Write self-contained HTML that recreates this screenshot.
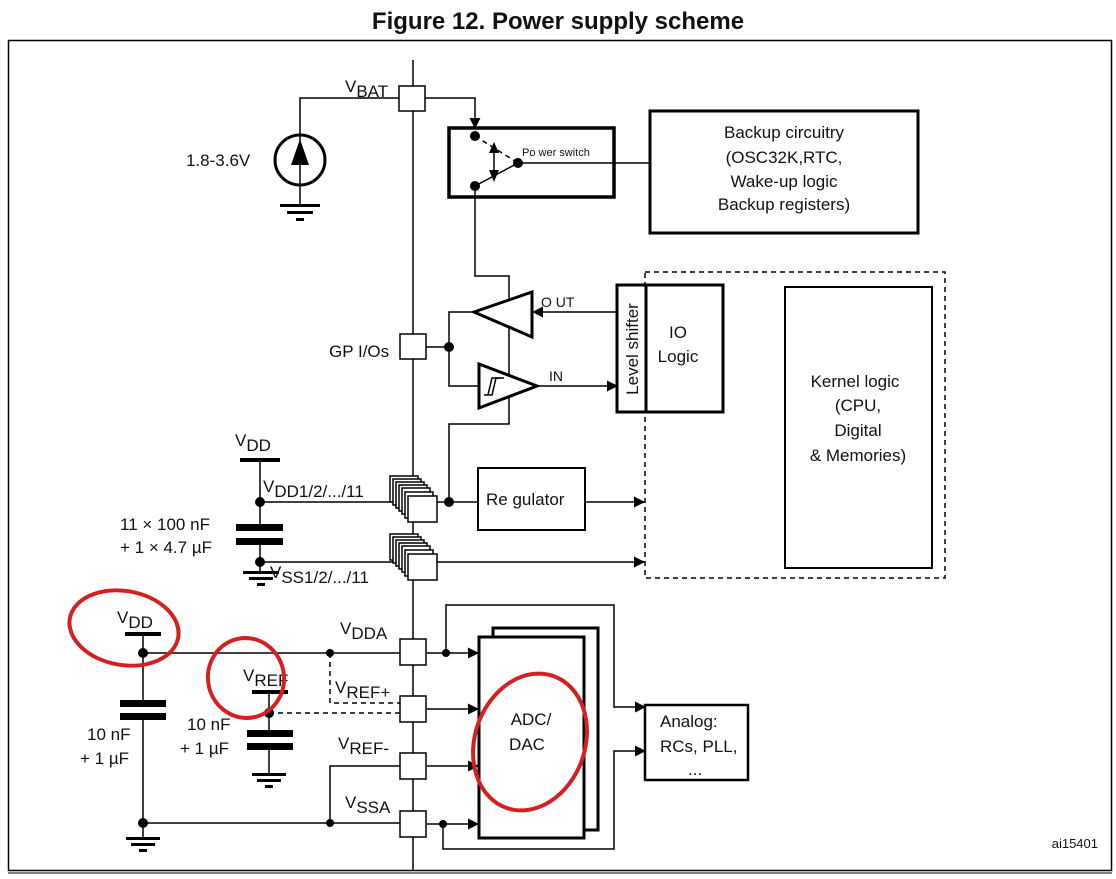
<!DOCTYPE html>
<html><head><meta charset="utf-8"><style>
html,body{margin:0;padding:0;background:#fff;}
svg{display:block;font-family:"Liberation Sans",sans-serif;}
text{fill:#111;}
</style></head><body>
<svg width="1116" height="879" viewBox="0 0 1116 879" xmlns="http://www.w3.org/2000/svg">
<defs>
<marker id="ar" markerWidth="11" markerHeight="11" refX="10" refY="5.5" orient="auto" markerUnits="userSpaceOnUse"><path d="M0,0 L11,5.5 L0,11 z" fill="#000"/></marker>
</defs>
<text x="558" y="29" text-anchor="middle" font-size="24" font-weight="bold">Figure 12. Power supply scheme</text>
<rect x="8.5" y="40.5" width="1103" height="830" fill="none" stroke="#000" stroke-width="1.5"/>
<line x1="8" y1="873" x2="1112" y2="873" stroke="#000" stroke-width="1"/>

<g stroke="#000" stroke-width="1.5" fill="none">
<line x1="413" y1="60" x2="413" y2="870"/>
<polyline points="399,98 300,98 300,135"/>
<polyline points="300,185 300,205"/>
<polyline points="425,98 475,98 475,128" marker-end="url(#ar)"/>
<polyline points="475,186 475,276 509,276 509,424 449,424 449,502"/>
<line x1="518" y1="163" x2="649" y2="163"/>
<line x1="426" y1="347" x2="449" y2="347"/>
<polyline points="474,312 449,312 449,386 479,386"/>
<line x1="617" y1="312" x2="533" y2="312" marker-end="url(#ar)"/>
<line x1="537" y1="386" x2="617" y2="386" marker-end="url(#ar)"/>
<line x1="260" y1="460" x2="260" y2="527"/>
<line x1="260" y1="545" x2="260" y2="572"/>
<line x1="260" y1="502" x2="395" y2="502"/>
<line x1="260" y1="562" x2="395" y2="562"/>
<line x1="437" y1="502" x2="478" y2="502"/>
<line x1="585" y1="502" x2="644" y2="502" marker-end="url(#ar)"/>
<line x1="437" y1="562" x2="644" y2="562" marker-end="url(#ar)"/>
<line x1="143" y1="634" x2="143" y2="700"/>
<line x1="143" y1="720" x2="143" y2="838"/>
<line x1="143" y1="653" x2="400" y2="653"/>
<line x1="143" y1="823" x2="400" y2="823"/>
<polyline points="400,766 330,766 330,823"/>
<line x1="269" y1="692" x2="269" y2="730"/>
<line x1="269" y1="750" x2="269" y2="775"/>
<line x1="427" y1="653" x2="478" y2="653" marker-end="url(#ar)"/>
<line x1="427" y1="709" x2="478" y2="709" marker-end="url(#ar)"/>
<line x1="427" y1="766" x2="478" y2="766" marker-end="url(#ar)"/>
<line x1="427" y1="824" x2="478" y2="824" marker-end="url(#ar)"/>
<polyline points="446,653 446,605 614,605 614,707 645,707" marker-end="url(#ar)"/>
<polyline points="443,824 443,849 614,849 614,751 645,751" marker-end="url(#ar)"/>
</g>
<g stroke="#000" stroke-width="1.5" fill="none" stroke-dasharray="5,4">
<polyline points="330,653 330,703 400,703"/>
<line x1="269" y1="713" x2="400" y2="713"/>
<rect x="645" y="272" width="300" height="306"/>
</g>

<g stroke="#000" stroke-width="1.5" fill="#fff">
<rect x="399" y="86" width="26" height="25"/>
<rect x="400" y="334" width="26" height="25"/>
<rect x="400" y="639" width="26" height="26"/>
<rect x="400" y="696" width="26" height="26"/>
<rect x="400" y="753" width="26" height="26"/>
<rect x="400" y="811" width="26" height="26"/>
<g>
<rect x="390" y="476" width="28" height="26"/><rect x="393" y="479" width="28" height="26"/><rect x="396" y="482" width="28" height="26"/><rect x="399" y="485" width="28" height="26"/><rect x="402" y="488" width="28" height="26"/><rect x="405" y="492" width="28" height="26"/><rect x="408" y="496" width="29" height="26"/>
</g>
<g>
<rect x="390" y="534" width="28" height="26"/><rect x="393" y="537" width="28" height="26"/><rect x="396" y="540" width="28" height="26"/><rect x="399" y="543" width="28" height="26"/><rect x="402" y="546" width="28" height="26"/><rect x="405" y="550" width="28" height="26"/><rect x="408" y="554" width="29" height="26"/>
</g>
</g>

<g stroke="#000" fill="#fff">
<rect x="449" y="128" width="165" height="69" stroke-width="3.5" fill="none"/>
<rect x="650" y="111" width="268" height="122" stroke-width="3"/>
<rect x="617" y="285" width="29" height="127" stroke-width="3"/>
<rect x="646" y="285" width="77" height="127" stroke-width="3"/>
<rect x="785" y="287" width="147" height="281" stroke-width="2"/>
<rect x="478" y="468" width="107" height="62" stroke-width="2"/>
<rect x="493" y="628" width="105" height="202" stroke-width="3"/>
<rect x="479" y="637" width="105" height="201" stroke-width="3"/>
<rect x="645" y="705" width="103" height="75" stroke-width="2.5"/>
</g>

<g stroke="#000" stroke-width="1.5">
<line x1="475" y1="136" x2="518" y2="163" stroke-dasharray="5,4"/>
<line x1="475" y1="186" x2="518" y2="163"/>
<line x1="494" y1="150" x2="494" y2="175"/>
</g>
<g fill="#000">
<path d="M489,153 L494,142 L499,153 z"/><path d="M489,170 L494,182 L499,170 z"/>
<circle cx="475" cy="136" r="5"/><circle cx="475" cy="186" r="5"/><circle cx="518" cy="163" r="5"/>
<circle cx="449" cy="347" r="5"/><circle cx="449" cy="502" r="5"/>
<circle cx="260" cy="502" r="5"/><circle cx="260" cy="562" r="5"/>
<circle cx="143" cy="653" r="5"/><circle cx="143" cy="823" r="5"/>
<circle cx="330" cy="653" r="4"/><circle cx="330" cy="823" r="4"/>
<circle cx="269" cy="713" r="5"/>
<circle cx="446" cy="653" r="4"/><circle cx="443" cy="824" r="4"/>
</g>

<circle cx="300" cy="160" r="25" fill="none" stroke="#000" stroke-width="3"/>
<line x1="300" y1="135" x2="300" y2="185" stroke="#000" stroke-width="1.5"/>
<path d="M291,165 L300,139 L309,165 z" fill="#000"/>

<g stroke="#000" stroke-width="3" fill="#fff">
<path d="M474,312 L532,292 L532,337 z"/>
<path d="M479,364 L537,386 L479,408 z"/>
</g>
<path d="M484,395 L492,395 L496,378 L504,378" stroke="#000" stroke-width="1.5" fill="none"/>
<path d="M488,395 L492,378 L500,378" stroke="#000" stroke-width="1.5" fill="none"/>

<g fill="#000">
<rect x="125" y="632" width="36" height="4"/>
<rect x="120" y="700" width="46" height="7"/><rect x="120" y="713" width="46" height="7"/>
<rect x="252" y="690" width="36" height="4"/>
<rect x="247" y="730" width="46" height="7"/><rect x="247" y="743" width="46" height="7"/>
<rect x="240" y="458" width="40" height="4"/>
<rect x="236" y="524" width="47" height="7"/><rect x="236" y="538" width="47" height="7"/>
<rect x="280" y="204" width="40" height="3"/><rect x="287" y="211" width="26" height="3"/><rect x="296" y="218" width="8" height="3"/>
<rect x="243" y="571" width="36" height="3"/><rect x="249" y="577" width="24" height="3"/><rect x="257" y="583" width="8" height="3"/>
<rect x="126" y="837" width="34" height="3"/><rect x="131" y="843" width="24" height="3"/><rect x="139" y="849" width="8" height="3"/>
<rect x="252" y="773" width="34" height="3"/><rect x="257" y="779" width="24" height="3"/><rect x="265" y="785" width="8" height="3"/>
</g>

<g font-size="17">
<text x="345" y="92">V<tspan dy="5">BAT</tspan></text>
<text x="186" y="166">1.8-3.6V</text>
<text x="522" y="156" font-size="11">Po wer switch</text>
<text x="784" y="138" text-anchor="middle">Backup circuitry</text>
<text x="784" y="163" text-anchor="middle">(OSC32K,RTC,</text>
<text x="784" y="187" text-anchor="middle">Wake-up logic</text>
<text x="784" y="210" text-anchor="middle">Backup registers)</text>
<text x="541" y="307" font-size="14">O UT</text>
<text x="549" y="381" font-size="14">IN</text>
<text x="678" y="338" text-anchor="middle">IO</text>
<text x="678" y="362" text-anchor="middle">Logic</text>
<text x="638" y="349" text-anchor="middle" transform="rotate(-90 638 349)">Level shifter</text>
<text x="855" y="387" text-anchor="middle">Kernel logic</text>
<text x="858" y="411" text-anchor="middle">(CPU,</text>
<text x="858" y="436" text-anchor="middle">Digital</text>
<text x="858" y="461" text-anchor="middle">&amp; Memories)</text>
<text x="329" y="357">GP I/Os</text>
<text x="486" y="505">Re gulator</text>
<text x="235" y="446">V<tspan dy="5">DD</tspan></text>
<text x="263" y="492">V<tspan dy="5">DD1/2/.../11</tspan></text>
<text x="270" y="578">V<tspan dy="5">SS1/2/.../11</tspan></text>
<text x="120" y="530">11 × 100 nF</text>
<text x="120" y="553">+ 1 × 4.7  µF</text>
<text x="117" y="623">V<tspan dy="5">DD</tspan></text>
<text x="243" y="681">V<tspan dy="5">REF</tspan></text>
<text x="340" y="634">V<tspan dy="5">DDA</tspan></text>
<text x="335" y="693">V<tspan dy="5">REF+</tspan></text>
<text x="338" y="749">V<tspan dy="5">REF-</tspan></text>
<text x="345" y="808">V<tspan dy="5">SSA</tspan></text>
<text x="87" y="740">10 nF</text>
<text x="80" y="764">+ 1  µF</text>
<text x="187" y="730">10 nF</text>
<text x="180" y="754">+ 1  µF</text>
<text x="531" y="725" text-anchor="middle">ADC/</text>
<text x="527" y="750" text-anchor="middle">DAC</text>
<text x="660" y="727">Analog:</text>
<text x="660" y="752">RCs, PLL,</text>
<text x="688" y="775">...</text>
<text x="1098" y="848" text-anchor="end" font-size="13">ai15401</text>
</g>

<g stroke="#d42020" stroke-width="4" fill="none">
<ellipse cx="124" cy="628" rx="55" ry="37" transform="rotate(10 124 628)"/>
<ellipse cx="246" cy="678" rx="38" ry="40" transform="rotate(-10 246 678)"/>
<ellipse cx="530" cy="742" rx="55" ry="70" transform="rotate(20 530 742)"/>
</g>
</svg>
</body></html>
